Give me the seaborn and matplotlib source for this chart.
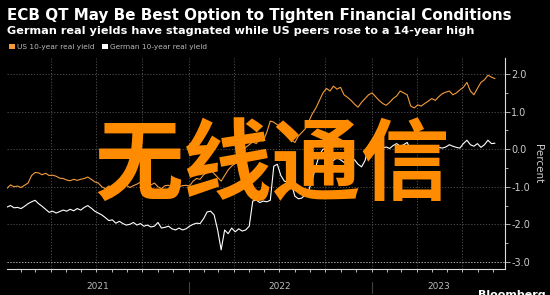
import numpy as np
import pandas as pd
import matplotlib
matplotlib.use("Agg")
import matplotlib.pyplot as plt
import matplotlib.dates as mdates
import matplotlib.transforms as mtransforms
from matplotlib.patches import Patch
import seaborn as sns

# ---------------- data (weekly readings) ----------------
start_date = "2021-01-04"
series_names = ["US 10-year real yield", "German 10-year real yield"]

us_yield = [
    -1.04, -0.95, -1.00, -0.98, -1.02, -0.96, -0.90, -0.70, -0.62, -0.63,
    -0.68, -0.64, -0.70, -0.69, -0.72, -0.77, -0.78, -0.82, -0.84, -0.80,
    -0.83, -0.80, -0.78, -0.74, -0.80, -0.87, -0.90, -1.00, -1.05, -0.98,
    -1.02, -0.95, -0.92, -1.00, -0.96, -1.02, -0.97, -0.93, -0.88, -0.92,
    -0.98, -0.95, -0.90, -1.00, -1.05, -0.97, -0.96, -1.02, -0.94, -1.00,
    -0.97, -0.96, -0.98, -0.85, -0.78, -0.80, -0.68, -0.62, -0.55, -0.65,
    -0.75, -0.85, -0.70, -0.55, -0.45, -0.38, -0.20, -0.12, 0.05, 0.12,
    0.20, 0.15, 0.28, 0.22, 0.45, 0.75, 0.72, 0.65, 0.62, 0.55,
    0.45, 0.25, 0.18, 0.35, 0.45, 0.55, 0.75, 0.95, 1.10, 1.30,
    1.50, 1.62, 1.55, 1.68, 1.60, 1.65, 1.45, 1.38, 1.30, 1.20,
    1.12, 1.25, 1.35, 1.45, 1.50, 1.40, 1.30, 1.22, 1.17, 1.25,
    1.35, 1.42, 1.55, 1.50, 1.45, 1.15, 1.10, 1.18, 1.15, 1.22,
    1.28, 1.35, 1.30, 1.40, 1.48, 1.52, 1.55, 1.45, 1.50, 1.58,
    1.65, 1.78, 1.55, 1.45, 1.62, 1.78, 1.85, 1.97, 1.92, 1.88,
]

german_yield = [
    -1.54, -1.50, -1.56, -1.55, -1.58, -1.52, -1.45, -1.40, -1.36, -1.45,
    -1.52, -1.60, -1.68, -1.65, -1.70, -1.66, -1.62, -1.65, -1.60, -1.64,
    -1.58, -1.62, -1.55, -1.50, -1.57, -1.65, -1.70, -1.75, -1.82, -1.90,
    -1.88, -1.97, -1.92, -1.98, -2.02, -2.00, -1.95, -2.02, -1.98, -2.05,
    -2.02, -2.07, -2.05, -1.95, -2.10, -2.08, -2.05, -2.12, -2.15, -2.10,
    -2.15, -2.12, -2.05, -2.00, -1.97, -1.98, -1.85, -1.67, -1.65, -1.75,
    -2.15, -2.68, -2.15, -2.25, -2.10, -2.20, -2.12, -2.18, -2.15, -2.05,
    -1.38, -1.35, -1.42, -1.38, -1.40, -1.36, -0.45, -0.40, -0.70, -0.85,
    -0.88, -0.92, -1.25, -1.32, -1.30, -1.20, -1.08, -0.80, -0.45, -0.15,
    0.00, 0.02, -0.25, -0.30, -0.22, -0.28, -0.35, -0.30, -0.32, -0.28,
    -0.40, -0.47, -0.30, 0.10, 0.24, 0.05, 0.08, 0.03, 0.06, 0.02,
    0.10, 0.15, 0.08, 0.12, 0.18, -0.02, -0.08, -0.05, -0.08, 0.00,
    0.03, -0.02, 0.02, 0.05, 0.03, 0.06, 0.12, 0.08, 0.05, 0.03,
    0.15, 0.24, 0.12, 0.08, 0.15, 0.05, 0.12, 0.24, 0.15, 0.16,
]

y_ticks = [-3.0, -2.0, -1.0, 0.0, 1.0, 2.0]
y_limits = (-3.19, 2.43)
x_limits = ("2021-01-04", "2023-09-24")

title = "ECB QT May Be Best Option to Tighten Financial Conditions"
subtitle = "German real yields have stagnated while US peers rose to a 14-year high"
y_label = "Percent"
watermark = "无线通信"
source = "Bloomberg"

colors = {"US 10-year real yield": "#F39C3C", "German 10-year real yield": "#FFFFFF"}

# ---------------- build table ----------------
dates = pd.date_range(start_date, periods=len(us_yield), freq="7D")
df = pd.concat([
    pd.DataFrame({"date": dates, "value": us_yield, "series": series_names[0]}),
    pd.DataFrame({"date": dates, "value": german_yield, "series": series_names[1]}),
])

# ---------------- style ----------------
sns.set_style("dark")
plt.rcParams.update({
    "axes.unicode_minus": False,
    "figure.facecolor": "black",
    "axes.facecolor": "black",
    "savefig.facecolor": "black",
})
plt.rcParams["font.family"] = ["DejaVu Sans"]

W, H = 550, 295
fig = plt.figure(figsize=(W / 100, H / 100), dpi=100)
ax = fig.add_axes([7 / W, 1 - 269 / H, (505 - 7) / W, (269 - 58) / H])
ax.set_facecolor("black")

sns.lineplot(data=df, x="date", y="value", hue="series", palette=colors,
             linewidth=0.8, legend=False, ax=ax, zorder=3)

ax.set_xlim(pd.Timestamp(x_limits[0]), pd.Timestamp(x_limits[1]))
ax.set_ylim(*y_limits)

# y axis on right
ax.yaxis.tick_right()
ax.yaxis.set_label_position("right")
ax.set_yticks(y_ticks)
ax.set_yticklabels([f"{v:.1f}" for v in y_ticks])
ax.yaxis.set_minor_locator(matplotlib.ticker.MultipleLocator(0.5))
ax.tick_params(axis="y", which="major", right=True, left=False, length=3.5, width=0.6,
               color="#cccccc", labelcolor="#cccccc", labelsize=7, pad=1)
ax.tick_params(axis="y", which="minor", right=True, left=False, length=2, width=0.6,
               color="#cccccc")
ax.set_ylabel(y_label, color="#cccccc", fontsize=7.5, rotation=270, labelpad=9)

# x axis
ax.xaxis.set_major_locator(mdates.MonthLocator(bymonth=[1, 4, 7, 10]))
ax.xaxis.set_minor_locator(mdates.MonthLocator())
ax.xaxis.set_major_formatter(matplotlib.ticker.NullFormatter())
ax.tick_params(axis="x", which="both", bottom=True, length=2.2, width=0.6,
               color="#dddddd", direction="out")
ax.set_xlabel("")

# grid
ax.grid(True, which="major", axis="both", color="#555555", linestyle=(0, (1.5, 2)),
        linewidth=0.6, zorder=0)
ax.axhline(y_ticks[0], color="#bbbbbb", linestyle=(0, (1.5, 2)), linewidth=0.6, zorder=1)

# spines
for s in ["top", "left"]:
    ax.spines[s].set_visible(False)
for s in ["bottom", "right"]:
    ax.spines[s].set_visible(True)
    ax.spines[s].set_color("#dddddd")
    ax.spines[s].set_linewidth(0.8)

# year labels centred on the visible part of each year, with separators
trans = mtransforms.blended_transform_factory(ax.transData, ax.transAxes)
x0, x1 = mdates.date2num(pd.Timestamp(x_limits[0])), mdates.date2num(pd.Timestamp(x_limits[1]))
for yr in sorted(set(dates.year)):
    a = max(mdates.date2num(pd.Timestamp(f"{yr}-01-01")), x0)
    b = min(mdates.date2num(pd.Timestamp(f"{yr + 1}-01-01")), x1)
    ax.text((a + b) / 2, -0.082, str(yr), transform=trans, ha="center", va="center",
            fontsize=6.5, color="#bbbbbb")
    jan = mdates.date2num(pd.Timestamp(f"{yr}-01-01"))
    if x0 < jan < x1:
        ax.plot([jan, jan], [-0.06, -0.115], transform=trans, color="#444444",
                linewidth=0.8, clip_on=False)

# titles
fig.text(7 / W, 1 - 15.5 / H, title, color="white", fontsize=10.9, fontweight="bold",
         ha="left", va="center")
fig.text(7 / W, 1 - 31 / H, subtitle, color="white", fontsize=8.1, fontweight="bold",
         ha="left", va="center")

# legend
handles = [Patch(facecolor=colors[n], edgecolor="none", label=n) for n in series_names]
fig.legend(handles=handles, loc="center left", bbox_to_anchor=(9 / W, 1 - 47 / H),
           ncol=2, frameon=False, fontsize=5.3, labelcolor="#bbbbbb",
           handlelength=0.8, handleheight=0.8, handletextpad=0.3, columnspacing=1.0,
           borderaxespad=0, borderpad=0)

# source (partly cut off at the bottom edge, as in the reference)
fig.text(478 / W, 1 - 290 / H, source, color="white", fontsize=8, fontweight="bold",
         ha="left", va="top")

# watermark overlay
fig.text(272 / W, 1 - 167 / H, watermark, color="#FF8C00", fontsize=64,
         fontweight="bold", family=["Noto Sans CJK SC", "DejaVu Sans"],
         ha="center", va="center", zorder=10)

fig.savefig("out.png", dpi=100, facecolor="black")
